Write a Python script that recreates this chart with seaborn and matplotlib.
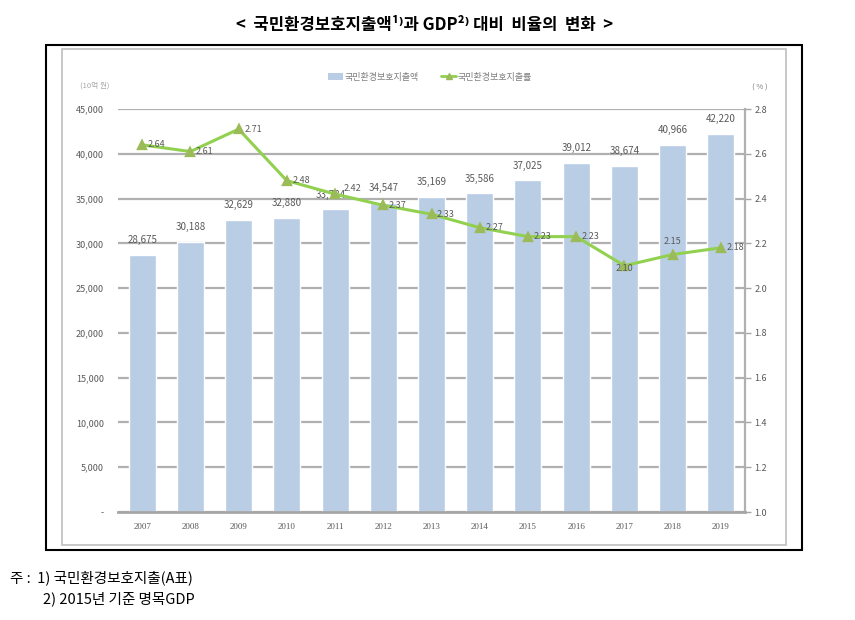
import numpy as np
import pandas as pd
import matplotlib
matplotlib.use('Agg')
import matplotlib.pyplot as plt
import seaborn as sns
from matplotlib.patches import Rectangle, Patch
from matplotlib.lines import Line2D

# 연도별 국민환경보호지출액(10억 원)과 GDP 대비 비율(%)
years = ['2007', '2008', '2009', '2010', '2011', '2012', '2013',
         '2014', '2015', '2016', '2017', '2018', '2019']
spending = [28675, 30188, 32629, 32880, 33784, 34547, 35169,
            35586, 37025, 39012, 38674, 40966, 42220]
ratio = [2.64, 2.61, 2.71, 2.48, 2.42, 2.37, 2.33,
         2.27, 2.23, 2.23, 2.10, 2.15, 2.18]

bar_name = '국민환경보호지출액'
line_name = '국민환경보호지출률'

df = pd.DataFrame({'year': years, 'spending': spending, 'ratio': ratio})

sns.set_theme(style='white')
plt.rcParams['font.family'] = ['Noto Sans CJK KR', 'DejaVu Sans']

bar_color = '#B9CDE5'
line_color = '#92D050'
marker_color = '#9BBB59'
grid_color = '#B0B0B0'
txt_color = '#595959'

fig = plt.figure(figsize=(8.55, 6.2), dpi=100)
ax = fig.add_axes([118 / 855, 1 - 512 / 620, (745 - 118) / 855, (512 - 109) / 620])

sns.barplot(data=df, x='year', y='spending', color=bar_color, width=0.56,
            saturation=1, ax=ax, zorder=2)
ax.set_ylim(0, 45000)
ax.set_yticks(np.arange(0, 45001, 5000))
ax.set_yticklabels(['-'] + [f'{v:,}' for v in range(5000, 45001, 5000)])
ax.yaxis.grid(True, color=grid_color, linewidth=1.6, zorder=0)
ax.set_axisbelow(True)
ax.set_xlabel('')
ax.set_ylabel('')
ax.tick_params(axis='y', length=0, labelsize=6.5, labelcolor=txt_color, pad=10)
ax.tick_params(axis='x', length=0, labelsize=6.5, labelcolor=txt_color, pad=8)
for lbl in ax.get_xticklabels():
    lbl.set_family('Liberation Serif')
for s in ['left', 'top']:
    ax.spines[s].set_visible(False)
ax.spines['bottom'].set_color('#A6A6A6')
ax.spines['bottom'].set_linewidth(2)
ax.spines['right'].set_color(grid_color)
ax.spines['right'].set_linewidth(1.6)

for i, v in enumerate(spending):
    ax.annotate(f'{v:,}', (i, v), xytext=(-3 if years[i] == '2011' else 0, 7),
                textcoords='offset points',
                ha='center', va='bottom', fontsize=7, color=txt_color)

ax2 = ax.twinx()
sns.pointplot(data=df, x='year', y='ratio', color=line_color, markers='^',
              linestyles='-', ax=ax2, markersize=6, linewidth=2.2)
for coll in ax2.lines:
    coll.set_markerfacecolor(marker_color)
    coll.set_markeredgecolor(marker_color)
ax2.set_ylim(1.0, 2.8)
ax2.set_yticks(np.arange(1.0, 2.81, 0.2))
ax2.set_yticklabels([f'{v:.1f}' for v in np.arange(1.0, 2.81, 0.2)])
ax2.set_xlim(-0.5, len(years) - 0.5)
ax.set_xlim(-0.5, len(years) - 0.5)
ax2.set_ylabel('')
ax2.grid(False)
ax2.tick_params(axis='y', length=4, color='#A6A6A6', width=1, direction='out',
                labelsize=6.5, labelcolor=txt_color, pad=3)
for s in ['left', 'top', 'bottom', 'right']:
    ax2.spines[s].set_visible(False)

for i, v in enumerate(ratio):
    if years[i] == '2018':
        off, ha, va = (0, 6), 'center', 'bottom'
    elif years[i] == '2017':
        off, ha, va = (0, -2), 'center', 'center'
    elif years[i] == '2011':
        off, ha, va = (6, 4), 'left', 'center'
    else:
        off, ha, va = (4, 0), 'left', 'center'
    ax2.annotate(f'{v:.2f}', (i, v), xytext=off, textcoords='offset points',
                 ha=ha, va=va, fontsize=6.5, color=txt_color)

# legend
handles = [Patch(facecolor=bar_color, edgecolor='none'),
           Line2D([0], [0], color=line_color, lw=2, marker='^',
                  markerfacecolor=marker_color, markeredgecolor=marker_color, markersize=5)]
fig.legend(handles, [bar_name, line_name], loc='center', bbox_to_anchor=(430 / 855, 1 - 77 / 620),
           ncol=2, frameon=False, fontsize=6.5, labelcolor='#7F7F7F',
           handlelength=1.6, columnspacing=2.5, handletextpad=0.2)

# units
fig.text(80 / 855, 1 - 86 / 620, '(10억 원)', fontsize=5.5, color='#A6A6A6', va='center')
fig.text(752 / 855, 1 - 88 / 620, '( % )', fontsize=5.5, color='#7F7F7F', va='center')

# frames
fig.patches.append(Rectangle((46 / 855, 1 - 550 / 620), (802 - 46) / 855, (550 - 45) / 620,
                             transform=fig.transFigure, fill=False, edgecolor='black',
                             linewidth=1.5, zorder=0))
fig.patches.append(Rectangle((62 / 855, 1 - 545 / 620), (786 - 62) / 855, (545 - 49) / 620,
                             transform=fig.transFigure, fill=False, edgecolor='#BFBFBF',
                             linewidth=1.2, zorder=0))

# title
fig.text(425 / 855, 1 - 25 / 620, '<  국민환경보호지출액¹⁾과 GDP²⁾ 대비  비율의  변화  >',
         ha='center', va='center', fontsize=12, fontweight='bold', color='#000000')

# footnote
fig.text(10 / 855, 1 - 578 / 620, '주 :  1) 국민환경보호지출(A표)', fontsize=10.5,
         va='center', color='#000000')
fig.text(43 / 855, 1 - 599 / 620, '2) 2015년 기준 명목GDP', fontsize=10.5,
         va='center', color='#000000')

fig.savefig('out.png', dpi=100)
